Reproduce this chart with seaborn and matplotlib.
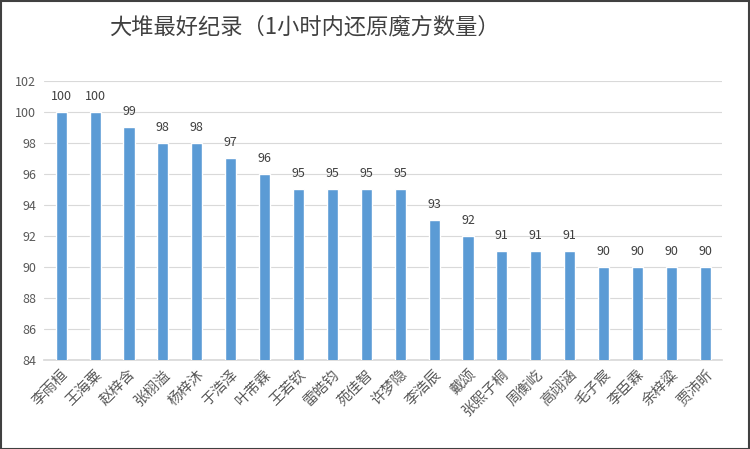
import matplotlib
matplotlib.use("Agg")
import matplotlib.pyplot as plt
import seaborn as sns
import pandas as pd

sns.set_theme(style="white")
plt.rcParams["font.family"] = ["Noto Sans CJK SC", "DejaVu Sans"]

names = ["李雨桓", "王海粟", "赵梓含", "张栩溢", "杨梓沐", "于浩泽", "叶芾霖", "王若钦",
         "雷皓钧", "苑佳智", "许梦隐", "李浩辰", "戴颂", "张熙子桐", "周衡屹", "高翊涵",
         "毛子宸", "李臣霖", "余梓粱", "贾沛昕"]
scores = [100, 100, 99, 98, 98, 97, 96, 95, 95, 95, 95, 93, 92, 91, 91, 91, 90, 90, 90, 90]
yticks = [84, 86, 88, 90, 92, 94, 96, 98, 100, 102]

df = pd.DataFrame({"name": names, "score": scores})

fig = plt.figure(figsize=(7.5, 4.49), dpi=100)
ax = fig.add_axes([0.059, 0.198, 0.904, 0.622])

sns.barplot(data=df, x="name", y="score", color="#5B9BD5", width=0.33,
            saturation=1, ax=ax, zorder=3)

ax.set_ylim(84, 102)
ax.set_yticks(yticks)
ax.yaxis.grid(True, color="#D9D9D9", linewidth=0.8, zorder=0)
ax.set_xlabel("")
ax.set_ylabel("")
for s in ["top", "right", "left"]:
    ax.spines[s].set_visible(False)
ax.spines["bottom"].set_color("#D9D9D9")
ax.tick_params(axis="y", labelsize=9, colors="#595959", length=0, pad=6)
ax.tick_params(axis="x", labelsize=10.5, colors="#595959", length=0, pad=5)
plt.setp(ax.get_xticklabels(), rotation=45, ha="right", rotation_mode="anchor")

for i, v in enumerate(scores):
    ax.text(i, v + 0.6, str(v), ha="center", va="bottom", fontsize=9, color="#404040")

fig.text(0.406, 0.94, "大堆最好纪录（1小时内还原魔方数量）", ha="center", va="center",
         fontsize=16, color="#404040")

fig.patches.append(plt.Rectangle((0.001, 0.001), 0.997, 0.997, transform=fig.transFigure,
                                 fill=False, edgecolor="#404040", linewidth=1.5))

fig.savefig("out.png", dpi=100)
